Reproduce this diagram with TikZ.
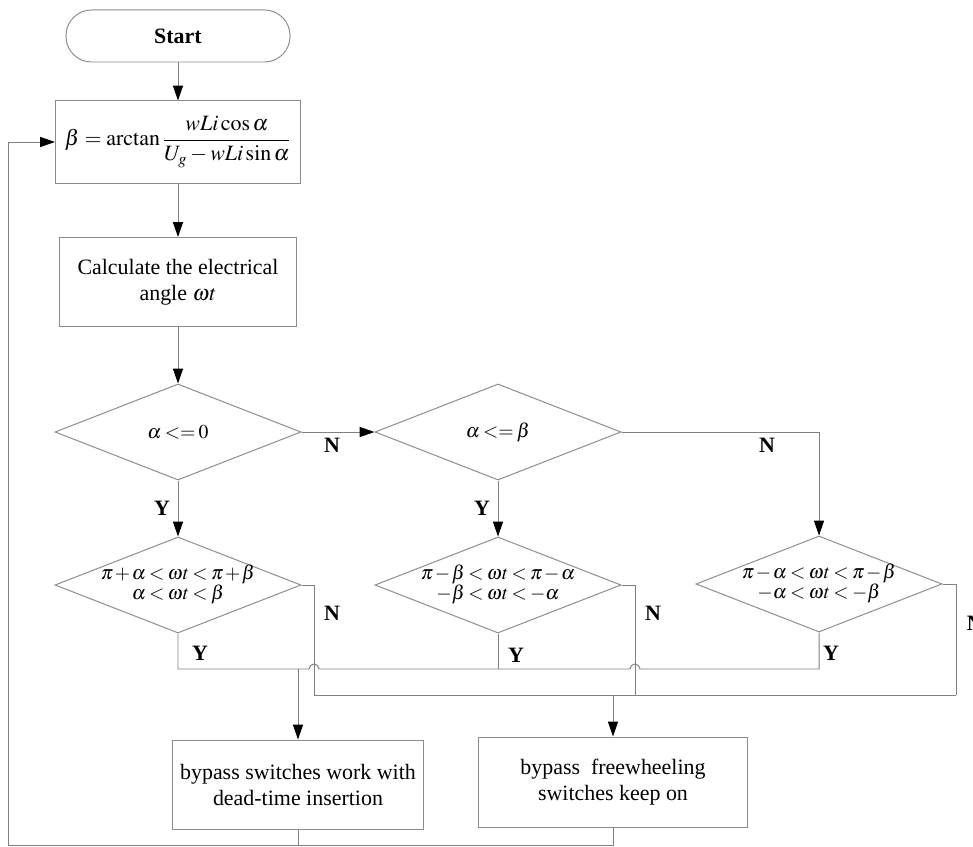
\documentclass[tikz,border=0pt]{standalone}
\usepackage{amsmath}
\usepackage{mathptmx}
\usepackage[no-math]{fontspec}
\setmainfont{Liberation Serif}
\usepackage{tikz}
\usetikzlibrary{shapes.geometric,arrows.meta,calc}
\renewcommand{\arraystretch}{0.85}
\newcommand{\condfont}{\fontsize{14}{16}\selectfont\thickmuskip=3mu\medmuskip=1.5mu}
\newcommand{\oneline}[1]{\makebox[0pt]{\condfont$#1$}}
\newcommand{\twolines}[2]{\makebox[0pt]{\raisebox{-0.16cm}{\condfont
  \begin{tabular}{@{}c@{}}$#1$\\$#2$\end{tabular}}}}

\begin{document}
\begin{tikzpicture}[x=0.025cm,y=-0.025cm,
  font=\fontsize{15.6}{18.5}\selectfont,
  line/.style={draw=black!50,line width=0.7pt},
  arr/.style={line,-{Triangle[length=0.37cm,width=0.25cm,color=black]}},
  box/.style={draw=black!45,line width=0.7pt,align=center,inner sep=0pt},
  decision/.style={diamond,draw=black!45,line width=0.7pt,inner sep=0pt,
    minimum width=6.15cm,minimum height=2.4cm},
  lab/.style={font=\fontsize{15.6}{18.5}\selectfont\bfseries}]
\useasboundingbox (0,0) rectangle (973,847);

\node[box,lab,rounded corners=0.64cm,minimum width=5.6cm,minimum height=1.3cm] (start) at (178,36) {Start};
\node[box,minimum width=6.125cm,minimum height=2.05cm] (beta) at (178,142)
  {$\beta=\arctan\dfrac{wLi\cos\alpha}{U_g-wLi\sin\alpha}$};
\node[box,minimum width=5.925cm,minimum height=2.225cm] (calc) at (178,282)
  {Calculate the electrical\\angle $\omega t$};

\node[decision] (d1) at (178,432) {\oneline{\alpha <= 0}};
\node[decision] (d2) at (498,432) {\oneline{\alpha <= \beta}};
\node[decision] (d3) at (178,585) {\twolines{\pi+\alpha<\omega t<\pi+\beta}{\alpha<\omega t<\beta}};
\node[decision] (d4) at (498,585) {\twolines{\pi-\beta<\omega t<\pi-\alpha}{-\beta<\omega t<-\alpha}};
\node[decision] (d5) at (819,584) {\twolines{\pi-\alpha<\omega t<\pi-\beta}{-\alpha<\omega t<-\beta}};

\node[box,minimum width=6.25cm,minimum height=2.225cm] (b1) at (298,784.5)
  {bypass switches work with\\dead-time insertion};
\node[box,minimum width=6.7cm,minimum height=2.25cm] (b2) at (613,782)
  {bypass~ freewheeling\\switches keep on};

\node[lab] (no1) at (332,445) {N};
\node[lab] (yes1) at (162,508) {Y};
\node[lab] (yes2) at (482,508) {Y};
\node[lab] (no2) at (767,445) {N};
\node[lab] (yes3) at (200,653) {Y};
\node[lab] (no3) at (332,613) {N};
\node[lab] (yes4) at (516,655) {Y};
\node[lab] (no4) at (653,613) {N};
\node[lab] (yes5) at (831,653) {Y};
\node[lab,anchor=west] (no5) at (962,623) {N};

\coordinate (ybus) at (0,669);
\coordinate (nbus) at (0,695);
\coordinate (n3) at (314,695);
\coordinate (n4) at (635,695);
\coordinate (n5) at (956,695);
\coordinate (loop) at (8,845);

\draw[arr] (start) -- (beta);
\draw[arr] (beta) -- (calc);
\draw[arr] (calc) -- (d1);
\draw[arr] (d1) -- (d2);
\draw[arr] (d1) -- (d3);
\draw[arr] (d2) -- (d4);
\draw[arr] (d2.east) -| (d5.north);

\draw[line] (d3.east) -| (n3) -- (n5);
\draw[line] (d4.east) -| (n4);
\draw[line] (d5.east) -| (n5);
\draw[line] (d3.south) |- ($(n3|-ybus)+(-5,0)$) arc[start angle=180,end angle=360,radius=5]
  -- ($(n4|-ybus)+(-5,0)$) arc[start angle=180,end angle=360,radius=5] -| (d5.south);
\draw[line] (d4.south) -- (d4.south |- ybus);

\draw[arr] (b1.north |- ybus) -- (b1.north);
\draw[arr] (b2.north |- nbus) -- (b2.north);
\draw[line] (b1.south) -- (b1.south |- loop);
\draw[arr] (b2.south) |- (loop) |- (beta.west);
\end{tikzpicture}
\end{document}
